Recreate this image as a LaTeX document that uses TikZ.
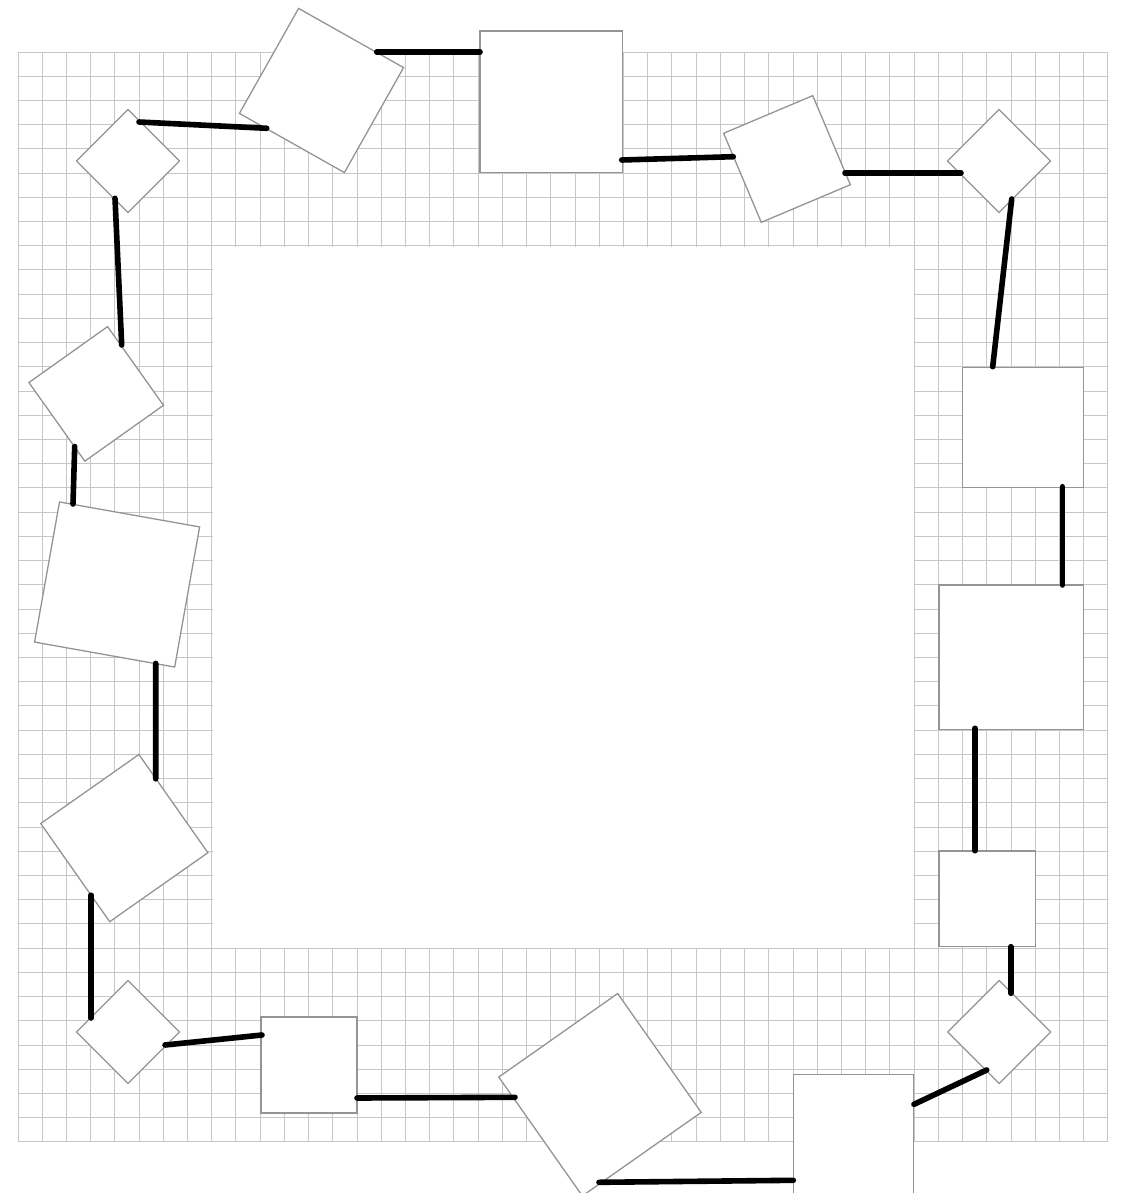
\documentclass[tikz,border=0pt]{standalone}
\begin{document}
\begin{tikzpicture}[x=1pt,y=-1pt,
  box/.style={draw=black!42,line width=1.3pt,fill=white,inner sep=0pt,outer sep=0pt},
  link/.style={line width=5.6pt,line cap=round,black},
  gridline/.style={draw=black!22,line width=1.5pt}]
\useasboundingbox (0,0) rectangle (1121,1193);
\fill[white] (0,0) rectangle (1121,1193);
% grid
\foreach \i in {0,...,45}{
  \pgfmathsetmacro{\gx}{floor(18+\i*24.2222)+0.5}
  \pgfmathsetmacro{\gy}{floor(52+\i*24.2222)+0.5}
  \draw[gridline] (\gx,52.5) -- (\gx,1141.5);
  \draw[gridline] (18.5,\gy) -- (1107.5,\gy);
}
\fill[white] (213.3,247.3) rectangle (913.7,947.7);
% nodes
\node[box,minimum size=72.8pt,rotate=45]   (d1)  at (128,161) {};
\node[box,minimum size=120.5pt,rotate=-29.4] (s2) at (321.5,90.5) {};
\node[box,minimum width=142.3pt,minimum height=141.3pt] (r3) at (551.2,101.7) {};
\node[box,minimum size=96.7pt,rotate=22.9] (s4)  at (787,159) {};
\node[box,minimum size=72.8pt,rotate=45]   (d5)  at (999,161) {};
\node[box,minimum width=120.6pt,minimum height=120pt] (r6) at (1023,427.2) {};
\node[box,minimum size=144.3pt] (r7) at (1011.2,657.2) {};
\node[box,minimum width=96.7pt,minimum height=95.7pt] (r8) at (987.3,898.8) {};
\node[box,minimum size=72.8pt,rotate=45]   (d9)  at (999.2,1032) {};
\node[box,minimum size=120.4pt] (r10) at (853.5,1134.5) {};
\node[box,minimum size=145.3pt,rotate=35.1] (s11) at (600,1094.7) {};
\node[box,minimum size=96pt] (r12) at (309,1065) {};
\node[box,minimum size=72.8pt,rotate=45]   (d13) at (128,1032) {};
\node[box,minimum size=120pt,rotate=35.1] (s14) at (124.3,838.1) {};
\node[box,minimum size=142.3pt,rotate=-10.1] (r15) at (117.1,584.5) {};
\node[box,minimum size=96.5pt,rotate=35.4] (s16) at (96.2,393.9) {};
% connectors
\draw[link] ([shift={(11,-39)}]d1.center) -- ([shift={(-54.8,37.8)}]s2.center);
\draw[link] ([shift={(55.2,-38.5)}]s2.center) -- ([shift={(-71.2,-49.7)}]r3.center);
\draw[link] ([shift={(70.5,58.3)}]r3.center) -- ([shift={(-53.7,-2.3)}]s4.center);
\draw[link] ([shift={(58,14)}]s4.center) -- ([shift={(-38,12)}]d5.center);
\draw[link] ([shift={(12.7,38)}]d5.center) -- ([shift={(-30.3,-60.5)}]r6.center);
\draw[link] ([shift={(39.3,59.5)}]r6.center) -- ([shift={(51.1,-72.2)}]r7.center);
\draw[link] ([shift={(-36.2,71.1)}]r7.center) -- ([shift={(-12.3,-48.1)}]r8.center);
\draw[link] ([shift={(23.4,47.9)}]r8.center) -- ([shift={(11.5,-38.7)}]d9.center);
\draw[link] ([shift={(-12.5,38)}]d9.center) -- ([shift={(60.5,-30.2)}]r10.center);
\draw[link] ([shift={(-60.2,45.8)}]r10.center) -- ([shift={(-1,87.6)}]s11.center);
\draw[link] ([shift={(-85,2.6)}]s11.center) -- ([shift={(48,33)}]r12.center);
\draw[link] ([shift={(-47,-30)}]r12.center) -- ([shift={(37,13)}]d13.center);
\draw[link] ([shift={(-37,-14)}]d13.center) -- ([shift={(-33.3,57.1)}]s14.center);
\draw[link] ([shift={(31.4,-59.3)}]s14.center) -- ([shift={(38.6,78.9)}]r15.center);
\draw[link] ([shift={(-44.1,-80.5)}]r15.center) -- ([shift={(-21.5,52.6)}]s16.center);
\draw[link] ([shift={(25.5,-48.9)}]s16.center) -- ([shift={(-13,37.3)}]d1.center);
\end{tikzpicture}
\end{document}
